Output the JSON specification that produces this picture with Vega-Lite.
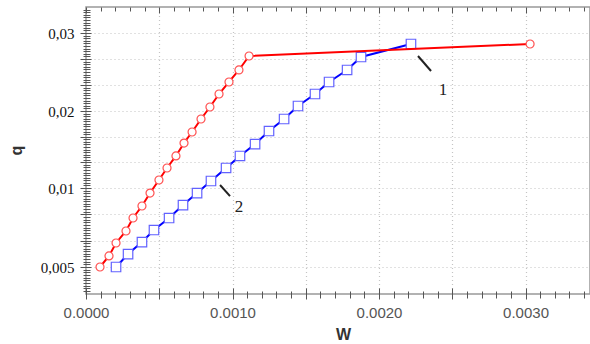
{
  "$schema": "https://vega.github.io/schema/vega-lite/v6.json",
  "width": 504,
  "height": 287,
  "autosize": "none",
  "padding": {"left": 86, "top": 7, "right": 0, "bottom": 50},
  "background": "white",
  "config": {
    "view": {"stroke": "#999999", "strokeWidth": 1.5},
    "axis": {"domain": false, "tickColor": "#555555", "tickWidth": 1}
  },
  "datasets": {
    "pts": [
      {"series": "1", "w": 0.0000956, "q": 0.005},
      {"series": "1", "w": 0.000157, "q": 0.0057},
      {"series": "1", "w": 0.000205, "q": 0.00652},
      {"series": "1", "w": 0.000273, "q": 0.00728},
      {"series": "1", "w": 0.000321, "q": 0.0081},
      {"series": "1", "w": 0.000382, "q": 0.00886},
      {"series": "1", "w": 0.000437, "q": 0.00968},
      {"series": "1", "w": 0.000498, "q": 0.01104},
      {"series": "1", "w": 0.000553, "q": 0.0126},
      {"series": "1", "w": 0.000614, "q": 0.01416},
      {"series": "1", "w": 0.000669, "q": 0.01584},
      {"series": "1", "w": 0.000724, "q": 0.01727},
      {"series": "1", "w": 0.000785, "q": 0.01896},
      {"series": "1", "w": 0.000846, "q": 0.02051},
      {"series": "1", "w": 0.000908, "q": 0.02218},
      {"series": "1", "w": 0.000976, "q": 0.02372},
      {"series": "1", "w": 0.001044, "q": 0.02526},
      {"series": "1", "w": 0.001113, "q": 0.02705},
      {"series": "1", "w": 0.003031, "q": 0.02859},
      {"series": "2", "w": 0.000205, "q": 0.005},
      {"series": "2", "w": 0.000287, "q": 0.00582},
      {"series": "2", "w": 0.000382, "q": 0.00658},
      {"series": "2", "w": 0.000464, "q": 0.00734},
      {"series": "2", "w": 0.000567, "q": 0.0081},
      {"series": "2", "w": 0.000662, "q": 0.00892},
      {"series": "2", "w": 0.000758, "q": 0.00968},
      {"series": "2", "w": 0.000853, "q": 0.01091},
      {"series": "2", "w": 0.000956, "q": 0.0126},
      {"series": "2", "w": 0.001051, "q": 0.01416},
      {"series": "2", "w": 0.001154, "q": 0.01571},
      {"series": "2", "w": 0.001249, "q": 0.0174},
      {"series": "2", "w": 0.001352, "q": 0.01896},
      {"series": "2", "w": 0.001447, "q": 0.02064},
      {"series": "2", "w": 0.001563, "q": 0.02218},
      {"series": "2", "w": 0.001659, "q": 0.02372},
      {"series": "2", "w": 0.001782, "q": 0.02526},
      {"series": "2", "w": 0.001877, "q": 0.02692},
      {"series": "2", "w": 0.002218, "q": 0.02859}
    ],
    "ann": [
      {"w": 0.002266, "q": 0.02705, "w2": 0.002355, "q2": 0.02513},
      {"w": 0.000915, "q": 0.01039, "w2": 0.000983, "q2": 0.00949}
    ],
    "lbl": [
      {"w": 0.002437, "q": 0.02269, "text": "1"},
      {"w": 0.001044, "q": 0.0088, "text": "2"}
    ]
  },
  "resolve": {"axis": {"x": "independent", "y": "independent"}},
  "layer": [
    {
      "data": {"name": "pts"},
      "transform": [{"filter": "datum.series == '2'"}],
      "mark": {"type": "line", "color": "#0000ff", "strokeWidth": 2},
      "encoding": {
        "x": {
          "field": "w", "type": "quantitative",
          "scale": {"domain": [0, 0.00344], "zero": false, "nice": false},
          "axis": {
            "orient": "bottom",
            "values": [0, 0.0005, 0.001, 0.0015, 0.002, 0.0025, 0.003],
            "labelExpr": "round(datum.value*2000) % 2 == 0 ? format(datum.value, '.4f') : ''",
            "ticks": false, "domain": false,
            "grid": true, "gridColor": "#c4c4c4", "gridDash": [1, 3], "gridWidth": 1.2,
            "labelFont": "Liberation Sans", "labelFontSize": 15, "labelColor": "#555555",
            "labelPadding": 11, "labelFlush": false,
            "title": "W", "titleFont": "Liberation Sans", "titleFontSize": 16,
            "titleFontWeight": "bold", "titleColor": "#333333",
            "titleX": 257, "titleY": 40, "titleBaseline": "middle", "titleAlign": "center"
          }
        },
        "y": {
          "field": "q", "type": "quantitative",
          "scale": {
            "domain": [0.0033333, 0.005, 0.01, 0.02, 0.03, 0.0333333],
            "range": [286.5, 260, 181, 104, 26, 0],
            "zero": false, "nice": false
          },
          "axis": {
            "orient": "left",
            "values": [0.005, 0.0066667, 0.0083333, 0.01, 0.0133333, 0.0166667, 0.02, 0.0233333, 0.0266667, 0.03],
            "labelExpr": "datum.value==0.005?'0,005':datum.value==0.01?'0,01':datum.value==0.02?'0,02':datum.value==0.03?'0,03':''",
            "ticks": false, "domain": false,
            "grid": true, "gridColor": "#c4c4c4", "gridDash": [1, 3], "gridWidth": 1.2,
            "labelFont": "Liberation Serif", "labelFontSize": 15, "labelColor": "#111111",
            "labelPadding": 12, "labelFlush": false,
            "title": "q", "titleFont": "Liberation Sans", "titleFontSize": 16,
            "titleFontWeight": "bold", "titleColor": "#333333",
            "titleX": -70, "titleY": 143, "titleAngle": -90,
            "titleBaseline": "middle", "titleAlign": "center"
          }
        }
      }
    },
    {
      "data": {"name": "pts"},
      "transform": [{"filter": "datum.series == '2'"}],
      "mark": {"type": "point", "shape": "square", "size": 90, "filled": true, "fill": "white", "stroke": "#6262ff", "strokeWidth": 1.2, "opacity": 1},
      "encoding": {
        "x": {"field": "w", "type": "quantitative", "axis": null},
        "y": {"field": "q", "type": "quantitative", "axis": null}
      }
    },
    {
      "data": {"name": "pts"},
      "transform": [{"filter": "datum.series == '1'"}],
      "mark": {"type": "line", "color": "#ff0000", "strokeWidth": 2},
      "encoding": {
        "x": {"field": "w", "type": "quantitative", "axis": null},
        "y": {"field": "q", "type": "quantitative", "axis": null}
      }
    },
    {
      "data": {"name": "pts"},
      "transform": [{"filter": "datum.series == '1'"}],
      "mark": {"type": "point", "shape": "circle", "size": 64, "filled": true, "fill": "white", "stroke": "#ff5050", "strokeWidth": 1.2, "opacity": 1},
      "encoding": {
        "x": {"field": "w", "type": "quantitative", "axis": null},
        "y": {"field": "q", "type": "quantitative", "axis": null}
      }
    },
    {
      "data": {"name": "ann"},
      "mark": {"type": "rule", "color": "#222222", "strokeWidth": 2},
      "encoding": {
        "x": {"field": "w", "type": "quantitative", "axis": null},
        "y": {"field": "q", "type": "quantitative", "axis": null},
        "x2": {"field": "w2"},
        "y2": {"field": "q2"}
      }
    },
    {
      "data": {"name": "lbl"},
      "mark": {"type": "text", "font": "Liberation Serif", "fontSize": 17, "color": "#222222", "align": "center", "baseline": "middle"},
      "encoding": {
        "x": {"field": "w", "type": "quantitative", "axis": null},
        "y": {"field": "q", "type": "quantitative", "axis": null},
        "text": {"field": "text"}
      }
    },
    {
      "data": {"name": "pts"},
      "mark": {"type": "point", "opacity": 0},
      "encoding": {
        "x": {"field": "w", "type": "quantitative", "axis": {
          "orient": "bottom", "offset": -6, "tickSize": 11, "labels": false, "domain": false, "grid": false, "title": null,
          "values": [0, 0.0005, 0.001, 0.0015, 0.002, 0.0025, 0.003]
        }},
        "y": {"field": "q", "type": "quantitative", "axis": {
          "orient": "left", "offset": -5, "tickSize": 11, "labels": false, "domain": false, "grid": false, "title": null,
          "values": [0.005, 0.0066667, 0.0083333, 0.01, 0.0133333, 0.0166667, 0.02, 0.0233333, 0.0266667, 0.03]
        }}
      }
    },
    {
      "data": {"name": "pts"},
      "mark": {"type": "point", "opacity": 0},
      "encoding": {
        "x": {"field": "w", "type": "quantitative", "axis": {
          "orient": "bottom", "offset": -3, "tickSize": 7, "labels": false, "domain": false, "grid": false, "title": null,
          "values": [0.0001, 0.0002, 0.0003, 0.0004, 0.0006, 0.0007, 0.0008, 0.0009, 0.0011, 0.0012, 0.0013, 0.0014, 0.0016, 0.0017, 0.0018, 0.0019, 0.0021, 0.0022, 0.0023, 0.0024, 0.0026, 0.0027, 0.0028, 0.0029, 0.0031, 0.0032, 0.0033, 0.0034]
        }},
        "y": {"field": "q", "type": "quantitative", "axis": {
          "orient": "left", "offset": -4, "tickSize": 7, "labels": false, "domain": false, "grid": false, "title": null,
          "values": [0.0035, 0.0036667, 0.0038333, 0.004, 0.0041667, 0.0043333, 0.0045, 0.0046667, 0.0048333,
            0.0051667, 0.0053333, 0.0055, 0.0056667, 0.0058333, 0.006, 0.0061667, 0.0063333, 0.0065, 0.0068333, 0.007, 0.0071667, 0.0073333, 0.0075, 0.0076667, 0.0078333, 0.008, 0.0081667, 0.0085, 0.0086667, 0.0088333, 0.009, 0.0091667, 0.0093333, 0.0095, 0.0096667, 0.0098333,
            0.0103333, 0.0106667, 0.011, 0.0113333, 0.0116667, 0.012, 0.0123333, 0.0126667, 0.013, 0.0136667, 0.014, 0.0143333, 0.0146667, 0.015, 0.0153333, 0.0156667, 0.016, 0.0163333, 0.017, 0.0173333, 0.0176667, 0.018, 0.0183333, 0.0186667, 0.019, 0.0193333, 0.0196667,
            0.0203333, 0.0206667, 0.021, 0.0213333, 0.0216667, 0.022, 0.0223333, 0.0226667, 0.023, 0.0236667, 0.024, 0.0243333, 0.0246667, 0.025, 0.0253333, 0.0256667, 0.026, 0.0263333, 0.027, 0.0273333, 0.0276667, 0.028, 0.0283333, 0.0286667, 0.029, 0.0293333, 0.0296667,
            0.0303333, 0.0306667, 0.031, 0.0313333, 0.0316667, 0.032, 0.0323333, 0.0326667, 0.033]
        }}
      }
    },
    {
      "data": {"name": "pts"},
      "mark": {"type": "point", "opacity": 0},
      "encoding": {
        "x": {"field": "w", "type": "quantitative", "axis": {
          "orient": "top", "offset": -6, "tickSize": 6, "labels": false, "domain": false, "grid": false, "title": null,
          "values": [0, 0.0005, 0.001, 0.0015, 0.002, 0.0025, 0.003]
        }},
        "y": {"field": "q", "type": "quantitative", "axis": null}
      }
    },
    {
      "data": {"name": "pts"},
      "mark": {"type": "point", "opacity": 0},
      "encoding": {
        "x": {"field": "w", "type": "quantitative", "axis": {
          "orient": "top", "offset": -4, "tickSize": 4, "labels": false, "domain": false, "grid": false, "title": null,
          "values": [0.0001, 0.0002, 0.0003, 0.0004, 0.0006, 0.0007, 0.0008, 0.0009, 0.0011, 0.0012, 0.0013, 0.0014, 0.0016, 0.0017, 0.0018, 0.0019, 0.0021, 0.0022, 0.0023, 0.0024, 0.0026, 0.0027, 0.0028, 0.0029, 0.0031, 0.0032, 0.0033, 0.0034]
        }},
        "y": {"field": "q", "type": "quantitative", "axis": null}
      }
    }
  ]
}
